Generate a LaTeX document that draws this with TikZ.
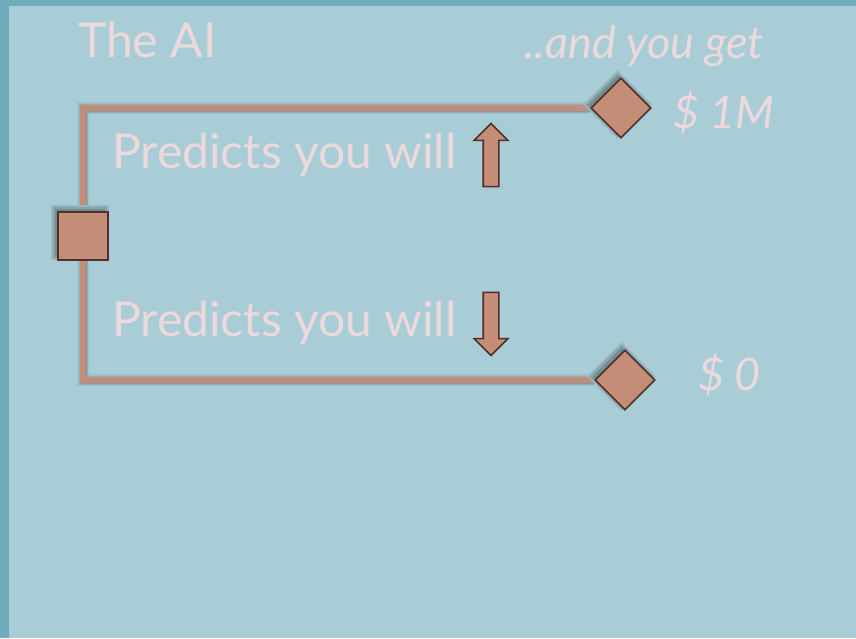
\documentclass[tikz,border=0pt]{standalone}
\usepackage{fontspec}
\setmainfont{Lato}
\usetikzlibrary{shapes.geometric,shapes.arrows,shadows,backgrounds,positioning}
\definecolor{nbback}{HTML}{A8CDD7}
\definecolor{nbframe}{HTML}{71ACBD}
\definecolor{nbclay}{HTML}{C48D78}
\definecolor{nbedge}{HTML}{512F27}
\definecolor{nbtext}{HTML}{EDD8DB}

\tikzset{
  nbshadow/.style={
      general shadow={fill=nbback!90!black, shadow xshift=-3pt, shadow yshift=3pt, shadow scale=1.16},
      general shadow={fill=nbback!80!black, shadow xshift=-3pt, shadow yshift=3pt, shadow scale=1.08},
      general shadow={fill=nbback!68!black, shadow xshift=-3pt, shadow yshift=3pt}},
  choice/.style={rectangle, fill=nbclay, draw=nbedge, line width=1.6pt,
      minimum width=50pt, minimum height=48pt, inner sep=0pt, nbshadow},
  outcome/.style={diamond, fill=nbclay, draw=nbedge, line width=1.6pt,
      minimum width=60pt, minimum height=60pt, inner sep=0pt, nbshadow},
  hint/.style={single arrow, fill=nbclay, draw=nbedge, line width=1.6pt,
      inner sep=7pt, minimum height=63pt,
      single arrow head extend=9pt, single arrow tip angle=90},
  branch/.style={draw=nbclay, line width=6pt},
  label/.style={text=nbtext, anchor=base west, inner sep=0pt,
      font=\fontsize{48}{48}\selectfont},
  payoff/.style={text=nbtext, anchor=base west, inner sep=0pt,
      font=\fontsize{45}{45}\selectfont\itshape}
}

\begin{document}
\begin{tikzpicture}[x=1pt, y=-1pt]
  \useasboundingbox (0,0) rectangle (856,638);
  % decision node and its two outcomes
  \node[choice] (ai) at (83,236) {};
  \node[outcome] (win) at (621,108) {};
  \node[outcome] (lose) at (625,380) {};
  % block arrows
  \node[hint, rotate=90] (up) at (491,159) {};
  \node[hint, rotate=-90] (down) at (491,320) {};
  % texts
  \node[label] (title) at (78,57) {The AI};
  \node[label] (predup) at (112,168) {Predicts you will};
  \node[label] (preddown) at (112,336) {Predicts you will};
  \node[payoff] (get) at (524,58) {..and you get};
  \node[payoff] (million) at (673,128) {\$ 1M};
  \node[payoff] (zero) at (698,390) {\$ 0};
  % frame, shadows and branches behind the nodes
  \begin{scope}[on background layer]
    \fill[nbframe] (0,0) rectangle (856,638);
    \fill[nbback] (9,6) rectangle (856,638);
    \begin{scope}[shift={(-3,-3)}]
      \foreach \w/\c in {12/93,9/85,7/76} {
        \draw[nbback!\c!black, line width=\w pt] (ai.north) |- (win.west);
        \draw[nbback!\c!black, line width=\w pt] (ai.south) |- (lose.west);
      }
    \end{scope}
    \draw[branch] (ai.north) |- (win.west);
    \draw[branch] (ai.south) |- (lose.west);
  \end{scope}
\end{tikzpicture}
\end{document}
